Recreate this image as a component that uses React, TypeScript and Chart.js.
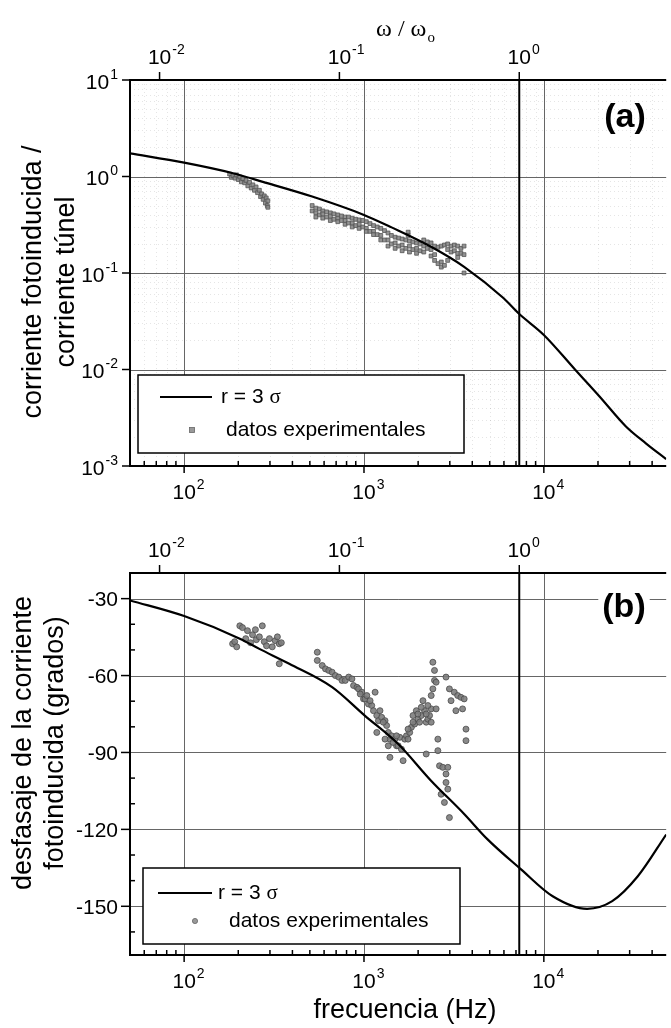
import React, { useEffect, useRef } from "react";
import { Chart, registerables } from "chart.js";

Chart.register(...registerables);

const SANS = '"Liberation Sans", Arial, Helvetica, sans-serif';
const SERIF = '"Liberation Serif", "Times New Roman", serif';

const W = 671;
const HA = 515;
const HB = 513;

// Frequency range (Hz) and the resonance frequency that sets the ω/ω₀ axis
const FREQ_MIN = 50;
const FREQ_MAX = 47900;
const OMEGA0_HZ = 7300;

// Tick values
const freqMajorTicks = [100, 1000, 10000];
const freqMajorExp = ["2", "3", "4"];
const freqMinorTicks = [
  60, 70, 80, 90, 200, 300, 400, 500, 600, 700, 800, 900, 2000, 3000, 4000, 5000,
  6000, 7000, 8000, 9000, 20000, 30000, 40000,
];
const omegaTicks = [0.01, 0.1, 1];
const omegaExp = ["-2", "-1", "0"];
const ampTicks = [10, 1, 0.1, 0.01, 0.001];
const ampExp = ["1", "0", "-1", "-2", "-3"];
const ampMinorGrid = [
  0.002, 0.003, 0.004, 0.005, 0.006, 0.007, 0.008, 0.009, 0.02, 0.03, 0.04, 0.05, 0.06,
  0.07, 0.08, 0.09, 0.2, 0.3, 0.4, 0.5, 0.6, 0.7, 0.8, 0.9, 2, 3, 4, 5, 6, 7, 8, 9,
];
const phaseMajorTicks = [-30, -60, -90, -120, -150];
const phaseMinorTicks = [-40, -50, -70, -80, -100, -110, -130, -140, -160];

// (a) model curve, r = 3σ: photo-induced current / tunnel current
const ampModelFreq = [50, 100, 187, 274, 515, 1000, 1423, 2360, 3605, 5980, 7255, 10000, 14900, 20400, 28600, 36900, 47900];
const ampModelValue = [1.74, 1.39, 1.08, 0.88, 0.62, 0.4, 0.297, 0.187, 0.116, 0.0547, 0.038, 0.0228, 0.01, 0.00525, 0.00257, 0.00172, 0.00118];

// (a) experimental data
const ampDataFreq = [
  179, 183, 187, 192, 195, 200, 204, 208, 212, 217, 221, 226, 231, 236,
  241, 246, 251, 256, 262, 266, 270, 275, 279, 283, 286, 290, 292, 292,
  515, 515, 540, 540, 540, 565, 565, 590, 590, 590, 620, 620,
  650, 650, 650, 680, 680, 715, 715, 715, 750, 750,
  785, 785, 785, 820, 820, 860, 860, 860, 900, 900,
  940, 940, 940, 985, 985, 1030, 1030, 1030, 1080, 1080,
  1130, 1130, 1130, 1185, 1185, 1240, 1240, 1240, 1300, 1300,
  1360, 1360, 1360, 1420, 1420, 1490, 1490, 1490, 1560, 1560,
  1630, 1630, 1630, 1710, 1710, 1760, 1760, 1790, 1790, 1790,
  1870, 1870, 1960, 1960, 1960, 2050, 2050, 2150, 2150, 2150,
  2250, 2250, 2360, 2360, 2360, 2470, 2470, 2470, 2580, 2580,
  2690, 2690, 2690, 2800, 2800, 2920, 2920, 2920, 3050, 3050,
  3180, 3180, 3320, 3320, 3320, 3460, 3460, 3600, 3600, 3600,
];
const ampDataValue = [
  1.06, 0.98, 1.02, 0.96, 1.04, 0.93, 0.99, 0.88, 0.95, 0.86, 0.91, 0.8, 0.87, 0.76,
  0.82, 0.72, 0.78, 0.68, 0.72, 0.62, 0.66, 0.58, 0.63, 0.53, 0.6, 0.5, 0.56, 0.48,
  0.5, 0.44, 0.47, 0.42, 0.38, 0.46, 0.4, 0.44, 0.41, 0.37, 0.43, 0.38,
  0.42, 0.39, 0.35, 0.41, 0.36, 0.4, 0.37, 0.34, 0.39, 0.35,
  0.38, 0.35, 0.32, 0.38, 0.33, 0.37, 0.33, 0.3, 0.36, 0.31,
  0.355, 0.32, 0.29, 0.35, 0.3, 0.34, 0.29, 0.27, 0.325, 0.27,
  0.31, 0.27, 0.25, 0.3, 0.25, 0.29, 0.245, 0.22, 0.275, 0.22,
  0.26, 0.22, 0.19, 0.245, 0.2, 0.235, 0.205, 0.18, 0.23, 0.19,
  0.225, 0.195, 0.17, 0.22, 0.18, 0.265, 0.245, 0.215, 0.19, 0.165,
  0.21, 0.175, 0.205, 0.18, 0.16, 0.2, 0.17, 0.22, 0.19, 0.165,
  0.21, 0.18, 0.205, 0.175, 0.15, 0.19, 0.155, 0.135, 0.185, 0.125,
  0.19, 0.13, 0.115, 0.195, 0.12, 0.2, 0.175, 0.135, 0.19, 0.165,
  0.195, 0.17, 0.19, 0.16, 0.145, 0.18, 0.16, 0.19, 0.155, 0.1,
];

// (b) model curve, r = 3σ: phase shift (degrees)
const phaseModelFreq = [50, 100, 204, 262, 384, 665, 1010, 1550, 2360, 3605, 4850, 7470, 11200, 17400, 24000, 33300, 47900];
const phaseModelValue = [-30.7, -36.8, -45.6, -49.6, -55.4, -64.5, -75.6, -86.7, -101, -114, -123.8, -135.6, -146.1, -151, -148, -138.3, -122];

// (b) experimental data
const phaseDataFreq = [
  186, 191, 196, 204, 211, 220, 225, 234, 240, 249, 252, 262, 272, 279, 287, 298, 309, 321, 330, 338, 338, 347,
  550, 550, 586, 611, 637, 665, 693, 724, 755, 787, 822, 857, 875, 914, 933, 973, 994, 1014, 1059, 1104, 1153, 1129,
  1178, 1203, 1254, 1309, 1336, 1178, 1365, 1394, 1423, 1394, 1485, 1517, 1549, 1582, 1615, 1650, 1686, 1722, 1758,
  1795, 1834, 1873, 1913, 1954, 1995, 2037, 2082, 2127, 2172, 2218, 2265, 2315, 2364, 2364, 2415, 2466, 2415, 2466,
  2518, 2518, 2218, 2575, 2575, 2630, 2742, 2924, 2858, 2858, 2924, 2685, 2800, 2985, 2858, 2985, 3048, 3177, 3319,
  3459, 3606, 3532, 3243, 3690, 3690,
  953, 1037, 1081, 1227, 1280, 1452, 1517, 1758, 1873, 1995, 2082, 2265, 2218, 2364, 1365, 1309,
];
const phaseDataValue = [
  -47.6, -46.8, -48.8, -40.6, -41.3, -45.6, -42.5, -47.2, -44.1, -42.1, -46.0, -44.9, -40.6, -46.8, -48.4, -45.6, -48.8, -46.4, -44.9, -47.6, -55.4, -47.2,
  -50.9, -54.1, -56.1, -57.4, -58.0, -58.7, -60.0, -60.6, -61.9, -61.9, -60.6, -61.3, -63.9, -64.6, -65.2, -66.5, -69.1, -69.1, -71.1, -71.7, -66.5, -73.7,
  -75.6, -77.6, -76.3, -77.6, -79.5, -82.2, -82.2, -84.8, -83.5, -91.9, -84.8, -87.4, -87.4, -84.1, -88.7, -93.2, -84.8, -83.5, -84.8,
  -82.2, -80.2, -75.6, -78.9, -73.7, -77.0, -78.2, -75.6, -69.8, -73.7, -78.2, -77.0, -75.6, -73.0, -67.8, -65.2, -61.9, -54.8, -58.0,
  -62.6, -73.0, -90.6, -84.8, -89.3, -95.2, -95.8, -95.8, -98.4, -101.7, -104.3, -106.3, -109.5, -115.4, -60.6, -65.2, -69.8, -66.5, -67.8,
  -68.5, -69.1, -73.0, -73.7, -80.9, -85.4,
  -67.2, -67.8, -69.8, -73.7, -78.2, -86.1, -83.5, -80.9, -78.2, -75.0, -72.4, -71.7, -75.0, -78.2, -87.4, -84.8,
];

type Pt = { x: number; y: number };
const zip = (xs: number[], ys: number[]): Pt[] => xs.map((x, i) => ({ x, y: ys[i] }));

type LegendBox = {
  x: number; y: number; w: number; h: number;
  lineY: number; lineX0: number; lineX1: number; lineTextX: number;
  markX: number; markY: number; markTextX: number;
};

type PanelCfg = {
  height: number;
  top: number;
  bottom: number;
  yType: "logarithmic" | "linear";
  yMin: number;
  yMax: number;
  marker: "rect" | "circle";
  model: Pt[];
  data: Pt[];
  titleLines: [string, string];
  titleX: [number, number];
  titleY: number;
  tag: string;
  tagX: number;
  tagY: number;
  tagGap: boolean;
  legend: LegendBox;
  topTitle: boolean;
  bottomTitle: boolean;
  minorGrid: boolean;
};

function drawPow(ctx: CanvasRenderingContext2D, x: number, y: number, exp: string, align: "center" | "right") {
  ctx.font = `21px ${SANS}`;
  const bw = ctx.measureText("10").width;
  ctx.font = `14px ${SANS}`;
  const ew = ctx.measureText(exp).width;
  const left = align === "center" ? x - bw / 2 : x - bw - ew - 1;
  ctx.textAlign = "left";
  ctx.textBaseline = "middle";
  ctx.font = `21px ${SANS}`;
  ctx.fillText("10", left, align === "center" ? y : y + 3);
  ctx.font = `14px ${SANS}`;
  ctx.fillText(exp, left + bw + 1, align === "center" ? y - 8 : y - 5);
}

function seg(ctx: CanvasRenderingContext2D, x0: number, y0: number, x1: number, y1: number) {
  ctx.beginPath();
  ctx.moveTo(x0, y0);
  ctx.lineTo(x1, y1);
  ctx.stroke();
}

function makeDecor(cfg: PanelCfg) {
  return {
    id: "panelDecor",
    beforeDatasetsDraw(chart: any) {
      const { ctx, chartArea: a, scales } = chart;
      const xs = scales.x;
      const ys = scales.y;
      ctx.save();
      if (cfg.minorGrid) {
        ctx.strokeStyle = "rgba(0,0,0,0.1)";
        ctx.lineWidth = 1;
        ctx.setLineDash([1, 3]);
        for (const f of freqMinorTicks) {
          const px = Math.round(xs.getPixelForValue(f)) + 0.5;
          seg(ctx, px, a.top, px, a.bottom);
        }
        for (const v of ampMinorGrid) {
          const py = Math.round(ys.getPixelForValue(v)) + 0.5;
          seg(ctx, a.left, py, a.right, py);
        }
        ctx.setLineDash([]);
      }
      ctx.strokeStyle = "#666";
      ctx.lineWidth = 1;
      for (const f of freqMajorTicks) {
        const px = Math.round(xs.getPixelForValue(f)) + 0.5;
        seg(ctx, px, a.top, px, a.bottom);
      }
      const yMajor = cfg.yType === "logarithmic" ? [1, 0.1, 0.01] : phaseMajorTicks;
      for (const v of yMajor) {
        const py = Math.round(ys.getPixelForValue(v)) + 0.5;
        seg(ctx, a.left, py, a.right, py);
      }
      // ω = ω₀
      const p0 = scales.xTop.getPixelForValue(1);
      ctx.strokeStyle = "#000";
      ctx.lineWidth = 2;
      seg(ctx, p0, a.top, p0, a.bottom);
      ctx.restore();
    },
    afterDatasetsDraw(chart: any) {
      const { ctx, chartArea: a, scales } = chart;
      const xs = scales.x;
      const ys = scales.y;
      const xt = scales.xTop;
      ctx.save();
      ctx.fillStyle = "#000";
      ctx.strokeStyle = "#000";

      // panel tag
      ctx.font = `bold 34px ${SANS}`;
      ctx.textAlign = "center";
      ctx.textBaseline = "middle";
      if (cfg.tagGap) {
        const tw = ctx.measureText(cfg.tag).width;
        ctx.fillStyle = "#fff";
        ctx.fillRect(cfg.tagX - tw / 2 - 4, cfg.tagY - 18, tw + 8, 36);
        ctx.fillStyle = "#000";
      }
      ctx.fillText(cfg.tag, cfg.tagX, cfg.tagY);

      // legend
      const L = cfg.legend;
      ctx.fillStyle = "#fff";
      ctx.fillRect(L.x, L.y, L.w, L.h);
      ctx.lineWidth = 1.5;
      ctx.strokeRect(L.x, L.y, L.w, L.h);
      ctx.lineWidth = 2;
      seg(ctx, L.lineX0, L.lineY, L.lineX1, L.lineY);
      ctx.fillStyle = "#000";
      ctx.textAlign = "left";
      ctx.textBaseline = "middle";
      ctx.font = `21px ${SANS}`;
      ctx.fillText("r = 3 ", L.lineTextX, L.lineY);
      const rw = ctx.measureText("r = 3 ").width;
      ctx.font = `21px ${SERIF}`;
      ctx.fillText("σ", L.lineTextX + rw, L.lineY);
      ctx.font = `21px ${SANS}`;
      ctx.fillText("datos experimentales", L.markTextX, L.markY);
      ctx.fillStyle = "#999";
      ctx.strokeStyle = "#666";
      ctx.lineWidth = 0.8;
      if (cfg.marker === "rect") {
        ctx.fillRect(L.markX - 2.5, L.markY - 2.5, 5, 5);
        ctx.strokeRect(L.markX - 2.5, L.markY - 2.5, 5, 5);
      } else {
        ctx.beginPath();
        ctx.arc(L.markX, L.markY, 2.6, 0, Math.PI * 2);
        ctx.fill();
        ctx.stroke();
      }

      // axis frame (left, bottom, top)
      ctx.strokeStyle = "#000";
      ctx.fillStyle = "#000";
      ctx.lineWidth = 2;
      seg(ctx, a.left, a.top - 1, a.left, a.bottom + 1);
      seg(ctx, a.left - 1, a.bottom, a.right, a.bottom);
      seg(ctx, a.left - 1, a.top, a.right, a.top);

      // bottom frequency ticks and labels
      ctx.lineWidth = 1.5;
      for (const f of freqMinorTicks) {
        const px = xs.getPixelForValue(f);
        seg(ctx, px, a.bottom, px, a.bottom - 5);
      }
      freqMajorTicks.forEach((f, i) => {
        const px = xs.getPixelForValue(f);
        seg(ctx, px, a.bottom, px, a.bottom + 7);
        drawPow(ctx, px, a.bottom + 27, freqMajorExp[i], "center");
      });

      // top ω/ω₀ ticks and labels
      omegaTicks.forEach((w, i) => {
        const px = xt.getPixelForValue(w);
        seg(ctx, px, a.top, px, a.top - 8);
        drawPow(ctx, px, a.top - 22, omegaExp[i], "center");
      });

      // left axis ticks and labels
      if (cfg.yType === "logarithmic") {
        ampTicks.forEach((v, i) => {
          const py = ys.getPixelForValue(v);
          seg(ctx, a.left - 8, py, a.left, py);
          drawPow(ctx, 118, py, ampExp[i], "right");
        });
      } else {
        for (const v of phaseMinorTicks) {
          const py = ys.getPixelForValue(v);
          seg(ctx, a.left, py, a.left + 5, py);
        }
        ctx.font = `21px ${SANS}`;
        ctx.textAlign = "right";
        ctx.textBaseline = "middle";
        for (const v of phaseMajorTicks) {
          const py = ys.getPixelForValue(v);
          seg(ctx, a.left - 9, py, a.left, py);
          ctx.fillText(String(v), 118, py + 2);
        }
      }

      // y-axis title (two rotated lines)
      ctx.font = `27px ${SANS}`;
      ctx.textAlign = "center";
      ctx.textBaseline = "middle";
      cfg.titleLines.forEach((t, i) => {
        ctx.save();
        ctx.translate(cfg.titleX[i], cfg.titleY);
        ctx.rotate(-Math.PI / 2);
        ctx.fillText(t, 0, 0);
        ctx.restore();
      });

      if (cfg.topTitle) {
        ctx.font = `24px ${SERIF}`;
        const main = "ω / ω";
        const mw = ctx.measureText(main).width;
        ctx.font = `15px ${SERIF}`;
        const sw = ctx.measureText("o").width;
        const x0 = 405 - (mw + sw) / 2;
        ctx.textAlign = "left";
        ctx.font = `24px ${SERIF}`;
        ctx.fillText(main, x0, 30);
        ctx.font = `15px ${SERIF}`;
        ctx.fillText("o", x0 + mw + 1, 38);
      }
      if (cfg.bottomTitle) {
        ctx.font = `27px ${SANS}`;
        ctx.textAlign = "center";
        ctx.fillText("frecuencia (Hz)", 405, cfg.height - 17);
      }
      ctx.restore();
    },
  };
}

function Panel({ cfg, top }: { cfg: PanelCfg; top: number }) {
  const ref = useRef<HTMLCanvasElement>(null);
  useEffect(() => {
    const canvas = ref.current;
    if (!canvas) return;
    const chart = new Chart(canvas, {
      type: "scatter",
      data: {
        datasets: [
          {
            data: cfg.model,
            showLine: true,
            borderColor: "#000",
            borderWidth: 2.2,
            pointRadius: 0,
            cubicInterpolationMode: "monotone",
            xAxisID: "x",
            yAxisID: "y",
          } as any,
          {
            data: cfg.data,
            showLine: false,
            pointStyle: cfg.marker === "rect" ? "rect" : "circle",
            pointRadius: cfg.marker === "rect" ? 2.7 : 3,
            backgroundColor: cfg.marker === "rect" ? "rgba(135,135,135,0.9)" : "rgba(125,125,125,0.9)",
            borderColor: cfg.marker === "rect" ? "#555" : "#4a4a4a",
            borderWidth: 0.8,
            xAxisID: "x",
            yAxisID: "y",
          } as any,
        ],
      },
      options: {
        animation: false,
        responsive: false,
        devicePixelRatio: 1,
        events: [],
        layout: { padding: 0 },
        plugins: { legend: { display: false }, tooltip: { enabled: false } },
        scales: {
          x: {
            type: "logarithmic",
            position: "bottom",
            min: FREQ_MIN,
            max: FREQ_MAX,
            grid: { display: false },
            border: { display: false },
            ticks: { display: false },
            afterFit: (s: any) => {
              s.height = cfg.height - cfg.bottom;
            },
          },
          xTop: {
            type: "logarithmic",
            position: "top",
            min: FREQ_MIN / OMEGA0_HZ,
            max: FREQ_MAX / OMEGA0_HZ,
            grid: { display: false },
            border: { display: false },
            ticks: { display: false },
            afterFit: (s: any) => {
              s.height = cfg.top;
            },
          },
          y: {
            type: cfg.yType,
            position: "left",
            min: cfg.yMin,
            max: cfg.yMax,
            grid: { display: false },
            border: { display: false },
            ticks: { display: false },
            afterFit: (s: any) => {
              s.width = 130;
            },
          },
        } as any,
      },
      plugins: [makeDecor(cfg)],
    });
    return () => chart.destroy();
  }, [cfg]);
  return (
    <canvas
      ref={ref}
      width={W}
      height={cfg.height}
      style={{ position: "absolute", left: 0, top, width: W, height: cfg.height, display: "block" }}
    />
  );
}

const panelA: PanelCfg = {
  height: HA,
  top: 80,
  bottom: 466,
  yType: "logarithmic",
  yMin: 0.001,
  yMax: 10,
  marker: "rect",
  model: zip(ampModelFreq, ampModelValue),
  data: zip(ampDataFreq, ampDataValue),
  titleLines: ["corriente fotoinducida /", "corriente túnel"],
  titleX: [34, 67],
  titleY: 282,
  tag: "(a)",
  tagX: 625,
  tagY: 118,
  tagGap: false,
  legend: {
    x: 138, y: 375, w: 326, h: 78,
    lineY: 397, lineX0: 160, lineX1: 212, lineTextX: 221,
    markX: 192, markY: 430, markTextX: 226,
  },
  topTitle: true,
  bottomTitle: false,
  minorGrid: true,
};

const panelB: PanelCfg = {
  height: HB,
  top: 58,
  bottom: 440,
  yType: "linear",
  yMin: -169,
  yMax: -20,
  marker: "circle",
  model: zip(phaseModelFreq, phaseModelValue),
  data: zip(phaseDataFreq, phaseDataValue),
  titleLines: ["desfasaje de la corriente", "fotoinducida (grados)"],
  titleX: [24, 56],
  titleY: 228,
  tag: "(b)",
  tagX: 624,
  tagY: 93,
  tagGap: true,
  legend: {
    x: 143, y: 353, w: 317, h: 76,
    lineY: 378, lineX0: 158, lineX1: 212, lineTextX: 218,
    markX: 195, markY: 406, markTextX: 229,
  },
  topTitle: false,
  bottomTitle: true,
  minorGrid: false,
};

export default function App() {
  return (
    <div
      style={{
        position: "absolute",
        left: 0,
        top: 0,
        width: W,
        height: HA + HB,
        background: "#fff",
        overflow: "hidden",
      }}
    >
      <Panel cfg={panelA} top={0} />
      <Panel cfg={panelB} top={HA} />
    </div>
  );
}
